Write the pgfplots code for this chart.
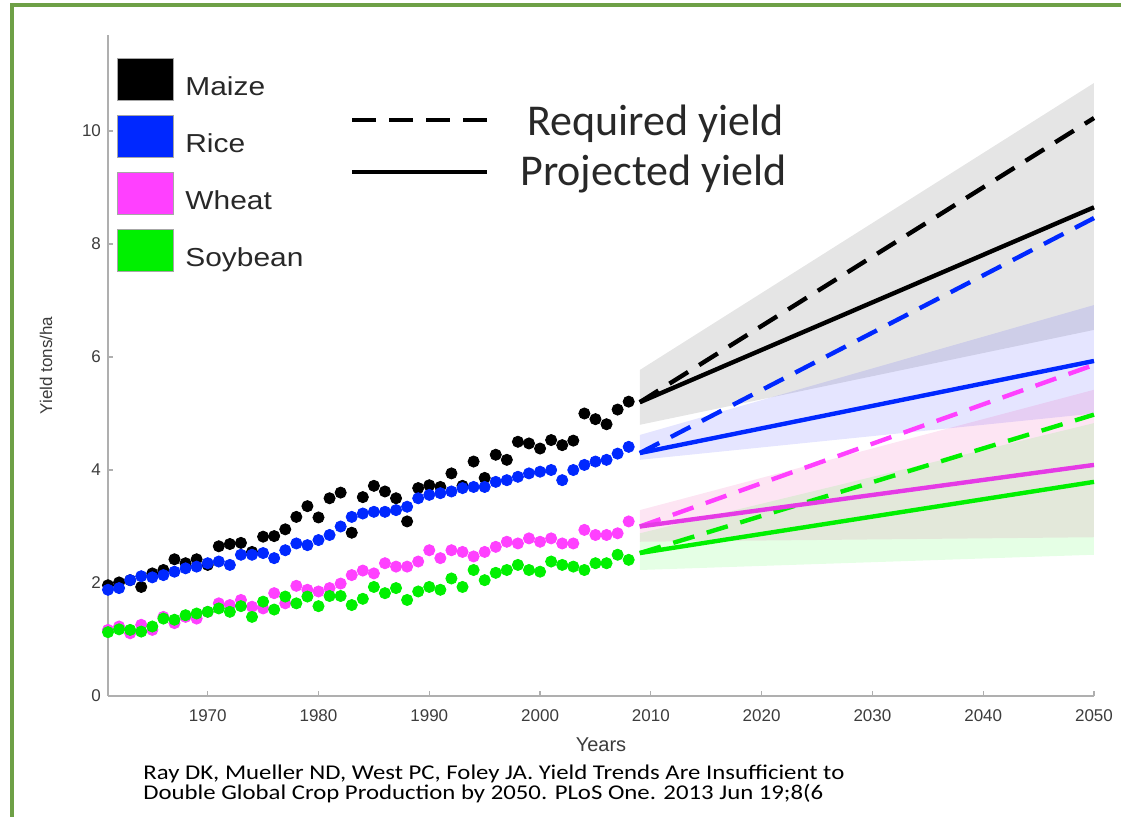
\documentclass[border=0pt]{standalone}
\usepackage{pgfplots}
\usepackage{pgfplotstable}
\pgfplotsset{compat=1.18}
\usepackage{fontspec}
\setmainfont{Liberation Sans}
\newfontfamily\calibri{Carlito}
\definecolor{framegreen}{RGB}{110,160,70}
\definecolor{axgray}{RGB}{175,175,175}
\definecolor{tickgray}{RGB}{60,60,60}
\definecolor{ricec}{RGB}{0,40,255}
\definecolor{wheatc}{RGB}{255,64,255}
\definecolor{soyc}{RGB}{0,240,0}
\definecolor{legtext}{RGB}{40,40,40}

\pgfplotstableread{
year val
1961 1.96
1962 2.01
1963 2.05
1964 1.93
1965 2.17
1966 2.23
1967 2.42
1968 2.35
1969 2.42
1970 2.32
1971 2.65
1972 2.69
1973 2.71
1974 2.55
1975 2.82
1976 2.83
1977 2.95
1978 3.17
1979 3.36
1980 3.16
1981 3.50
1982 3.60
1983 2.89
1984 3.52
1985 3.72
1986 3.62
1987 3.50
1988 3.09
1989 3.68
1990 3.73
1991 3.70
1992 3.94
1993 3.72
1994 4.15
1995 3.86
1996 4.27
1997 4.18
1998 4.50
1999 4.47
2000 4.38
2001 4.53
2002 4.44
2003 4.52
2004 5.00
2005 4.90
2006 4.81
2007 5.07
2008 5.21
}\maize

\pgfplotstableread{
year val
1961 1.88
1962 1.91
1963 2.05
1964 2.12
1965 2.10
1966 2.14
1967 2.20
1968 2.26
1969 2.29
1970 2.35
1971 2.38
1972 2.32
1973 2.50
1974 2.50
1975 2.53
1976 2.44
1977 2.58
1978 2.70
1979 2.67
1980 2.76
1981 2.85
1982 3.00
1983 3.17
1984 3.23
1985 3.26
1986 3.26
1987 3.29
1988 3.35
1989 3.50
1990 3.56
1991 3.59
1992 3.62
1993 3.68
1994 3.70
1995 3.70
1996 3.79
1997 3.82
1998 3.88
1999 3.94
2000 3.97
2001 4.00
2002 3.82
2003 4.00
2004 4.09
2005 4.15
2006 4.18
2007 4.29
2008 4.41
}\rice

\pgfplotstableread{
year val
1961 1.17
1962 1.23
1963 1.11
1964 1.26
1965 1.17
1966 1.40
1967 1.29
1968 1.40
1969 1.37
1970 1.49
1971 1.64
1972 1.61
1973 1.70
1974 1.58
1975 1.55
1976 1.82
1977 1.64
1978 1.95
1979 1.88
1980 1.85
1981 1.91
1982 1.99
1983 2.14
1984 2.22
1985 2.17
1986 2.35
1987 2.29
1988 2.29
1989 2.38
1990 2.58
1991 2.44
1992 2.58
1993 2.55
1994 2.47
1995 2.55
1996 2.64
1997 2.73
1998 2.70
1999 2.79
2000 2.73
2001 2.79
2002 2.70
2003 2.70
2004 2.94
2005 2.85
2006 2.85
2007 2.88
2008 3.09
}\wheat

\pgfplotstableread{
year val
1961 1.13
1962 1.18
1963 1.17
1964 1.14
1965 1.23
1966 1.37
1967 1.35
1968 1.43
1969 1.46
1970 1.49
1971 1.55
1972 1.49
1973 1.59
1974 1.40
1975 1.67
1976 1.53
1977 1.76
1978 1.64
1979 1.76
1980 1.59
1981 1.77
1982 1.77
1983 1.61
1984 1.72
1985 1.93
1986 1.82
1987 1.91
1988 1.70
1989 1.85
1990 1.93
1991 1.88
1992 2.08
1993 1.93
1994 2.23
1995 2.05
1996 2.18
1997 2.23
1998 2.32
1999 2.23
2000 2.20
2001 2.38
2002 2.32
2003 2.29
2004 2.23
2005 2.35
2006 2.35
2007 2.50
2008 2.41
}\soy

\begin{document}
\begin{tikzpicture}
\path[use as bounding box] (0,0) rectangle (561pt,408.5pt);

\begin{axis}[
  at={(54pt,60.5pt)}, anchor=south west,
  scale only axis, width=493pt, height=330.5pt,
  xmin=1961, xmax=2050, ymin=0, ymax=11.7,
  axis x line=bottom, axis y line=left,
  axis line style={-, draw=axgray, line width=1pt},
  xtick={1970,1980,...,2050}, ytick={0,2,...,10},
  tick align=inside, major tick length=2.5pt,
  tick style={axgray, line width=0.6pt},
  ticklabel style={font=\fontsize{8.5}{10}\selectfont, text=tickgray},
  /pgf/number format/assume math mode=true,
  /pgf/number format/1000 sep={},
  xticklabel style={yshift=-3.5pt},
  xlabel={Years},
  xlabel style={font=\fontsize{10}{12}\selectfont, text=tickgray, yshift=-1pt},
  ylabel={Yield tons/ha},
  ylabel style={font=\fontsize{8.5}{10}\selectfont, text=tickgray, yshift=8pt},
  clip=false,
]
% uncertainty bands
\addplot[draw=none, fill=black, fill opacity=0.1] coordinates {(2009,4.80) (2050,6.48) (2050,10.85) (2009,5.77)} -- cycle;
\addplot[draw=none, fill=blue, fill opacity=0.1] coordinates {(2009,4.18) (2050,5.00) (2050,6.92) (2009,4.62)} -- cycle;
\addplot[draw=none, fill=magenta, fill opacity=0.1] coordinates {(2009,2.73) (2050,2.81) (2050,5.42) (2009,3.29)} -- cycle;
\addplot[draw=none, fill=green, fill opacity=0.1] coordinates {(2009,2.23) (2050,2.50) (2050,4.83) (2009,2.88)} -- cycle;

% required (dashed) and projected (solid)
\addplot[soyc, line width=2.2pt, dash pattern=on 11pt off 6.5pt] coordinates {(2009,2.53) (2050,4.98)};
\addplot[soyc, line width=2.2pt] coordinates {(2009,2.53) (2050,3.79)};
\addplot[wheatc, line width=2.2pt, dash pattern=on 11pt off 6.5pt] coordinates {(2009,3.0) (2050,5.86)};
\addplot[wheatc!90!black, line width=2.2pt] coordinates {(2009,3.0) (2050,4.09)};
\addplot[ricec, line width=2.2pt, dash pattern=on 11pt off 6.5pt] coordinates {(2009,4.3) (2050,8.46)};
\addplot[ricec, line width=2.2pt] coordinates {(2009,4.3) (2050,5.93)};
\addplot[black, line width=2.2pt, dash pattern=on 11pt off 6.5pt] coordinates {(2009,5.2) (2050,10.23)};
\addplot[black, line width=2.2pt] coordinates {(2009,5.2) (2050,8.65)};

% observed yields
\addplot[only marks, mark=*, mark size=2.8pt, color=black] table[x=year, y=val] {\maize};
\addplot[only marks, mark=*, mark size=2.8pt, color=ricec] table[x=year, y=val] {\rice};
\addplot[only marks, mark=*, mark size=2.8pt, color=wheatc] table[x=year, y=val] {\wheat};
\addplot[only marks, mark=*, mark size=2.8pt, color=soyc] table[x=year, y=val] {\soy};
\end{axis}

\begin{scope}[x=0.5pt, y=-0.5pt, shift={(0,408.5pt)}]
  % frame
  \draw[framegreen, line width=1.6pt] (12,817) -- (12,5) -- (1121,5);
  % crop legend
  \foreach \c/\t/\y in {black/Maize/58, ricec/Rice/115, wheatc/Wheat/172, soyc/Soybean/229}{
    \fill[\c, draw=gray!70, line width=0.3pt] (117,\y) rectangle (173,\y+42);
    \node[anchor=base west, inner sep=0pt, text=legtext, font=\fontsize{13}{15}\selectfont] at (185,\y+38) {\scalebox{1.15}[1]{\t}};
  }
  % line legend
  \draw[black, line width=2.2pt, dash pattern=on 12pt off 6.5pt] (352,120) -- (487,120);
  \draw[black, line width=2.2pt] (352,172) -- (487,172);
  \node[anchor=base west, inner sep=0pt, text=legtext, font=\calibri\fontsize{22}{26}\selectfont] at (527,136) {Required yield};
  \node[anchor=base west, inner sep=0pt, text=legtext, font=\calibri\fontsize{22}{26}\selectfont] at (520,186) {Projected yield};
  % citation
  \node[anchor=base west, inner sep=0pt, align=left, font=\calibri\fontsize{10.5}{12}\selectfont] at (143,780) {\scalebox{1.18}[1]{Ray DK, Mueller ND, West PC, Foley JA. Yield Trends Are Insufficient to}};
  \node[anchor=base west, inner sep=0pt, align=left, font=\calibri\fontsize{10.5}{12}\selectfont] at (143,800) {\scalebox{1.18}[1]{Double Global Crop Production by 2050. PLoS One. 2013 Jun 19;8(6}};
\end{scope}
\end{tikzpicture}
\end{document}
